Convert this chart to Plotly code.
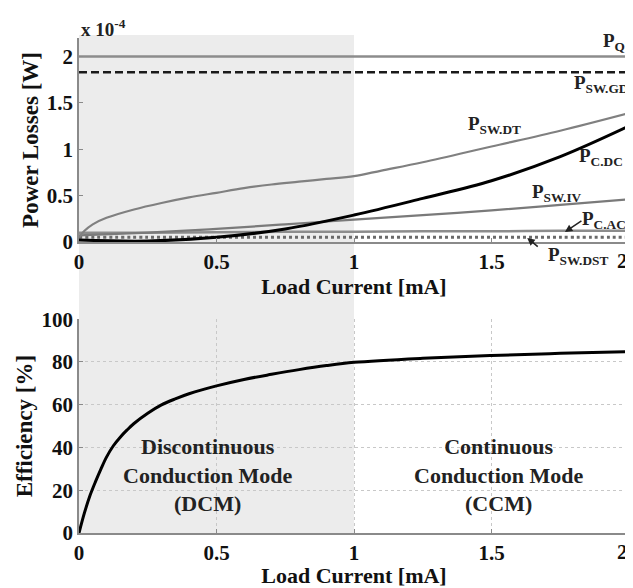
import plotly.graph_objects as go

# ---------------- data ----------------
# top plot: power losses (units of 1e-4 W) vs load current (mA)
X_FLAT = [0.0, 2.0]
P_Q = [2.0, 2.0]
P_SW_GD = [1.83, 1.83]

X_DT = [0, 0.02, 0.05, 0.1, 0.2, 0.3, 0.4, 0.5, 0.6, 0.7, 0.8, 0.9, 1.0, 1.1, 1.25, 1.5, 1.75, 2.0]
P_SW_DT = [0.05, 0.12, 0.19, 0.26, 0.35, 0.42, 0.48, 0.53, 0.58, 0.62, 0.65, 0.68, 0.71, 0.77, 0.86, 1.03, 1.20, 1.39]

X_CUR = [0, 0.25, 0.5, 0.75, 1.0, 1.25, 1.5, 1.75, 2.0]
P_C_DC = [0.02, 0.01, 0.05, 0.14, 0.29, 0.47, 0.66, 0.92, 1.25]
P_SW_IV = [0.07, 0.10, 0.14, 0.19, 0.24, 0.29, 0.34, 0.40, 0.46]
P_C_AC = [0.10, 0.10, 0.105, 0.11, 0.11, 0.115, 0.115, 0.12, 0.12]
P_SW_DST = [0.05, 0.05, 0.05, 0.05, 0.05, 0.05, 0.05, 0.05, 0.05]

# bottom plot: efficiency (%) vs load current (mA)
X_EFF = [0, 0.02, 0.04, 0.06, 0.08, 0.1, 0.125, 0.15, 0.175, 0.2, 0.25, 0.3, 0.35, 0.4,
         0.5, 0.6, 0.7, 0.8, 0.9, 1.0, 1.25, 1.5, 1.75, 2.0]
EFF = [0, 9.5, 17.5, 24, 30, 35.5, 40.8, 44.8, 48.2, 51.2, 56, 59.9, 62.7, 65.1,
       68.8, 71.8, 74.2, 76.4, 78.3, 79.8, 81.7, 83, 84, 84.8]

X_TICKS = [0, 0.5, 1, 1.5, 2]
X_TICKTEXT = ["0", "0.5", "1", "1.5", ""]   # the last label ("2") is drawn as an annotation
X_LAST_TICK = 2
X_LAST_TEXT = "2"
P_TICKS = [0, 0.5, 1, 1.5, 2]
P_TICKTEXT = ["0", "0.5", "1", "1.5", "2"]
E_TICKS = [0, 20, 40, 60, 80, 100]
E_TICKTEXT = ["0", "20", "40", "60", "80", "100"]

FONT = "Liberation Serif"
AX = "#8a8a8a"

fig = go.Figure()

def line(x, y, color, width, dash="solid", xa="x", ya="y", shape="spline"):
    fig.add_trace(go.Scatter(x=x, y=y, mode="lines", xaxis=xa, yaxis=ya,
                             line=dict(color=color, width=width, dash=dash, shape=shape),
                             showlegend=False, hoverinfo="skip", cliponaxis=False))

line(X_FLAT, P_Q, "#8c8c8c", 2.5, shape="linear")
line(X_FLAT, P_SW_GD, "#1a1a1a", 2.5, dash="8px,4px", shape="linear")
line(X_CUR, P_SW_DST, "#6a6a6a", 3, dash="dot")
line(X_CUR, P_C_AC, "#8c8c8c", 2.5)
line(X_CUR, P_SW_IV, "#7a7a7a", 2.2)
line(X_DT, P_SW_DT, "#808080", 2.2)
line(X_CUR, P_C_DC, "#000000", 3)

line(X_EFF, EFF, "#000000", 3, xa="x2", ya="y2")

tick_font = dict(family=FONT, size=21, color="#111", weight="bold")
title_font = dict(family=FONT, size=22, color="#111", weight="bold")
ytitle_font = dict(family=FONT, size=23, color="#111", weight="bold")

common_x = dict(range=[0, 2], tickvals=X_TICKS, ticktext=X_TICKTEXT, ticks="inside",
                ticklen=4, tickcolor=AX, showline=True, linecolor=AX, linewidth=1.5,
                zeroline=False, tickfont=tick_font, fixedrange=True, automargin=False,
                ticklabeloverflow="allow")

common_y = dict(ticks="inside", ticklen=4, tickcolor=AX, showline=True, linecolor=AX,
                linewidth=1.5, zeroline=False, tickfont=tick_font, automargin=False,
                fixedrange=True)

# page has an 8px body margin, so the figure is sized to fit inside it
fig.update_layout(
    width=625, height=580,
    margin=dict(l=71, r=4, t=30, b=55),
    paper_bgcolor="white", plot_bgcolor="rgba(0,0,0,0)",
    showlegend=False,
    xaxis=dict(**common_x, anchor="y", showgrid=False,
               title=dict(text="Load Current [mA]", font=title_font, standoff=2)),
    yaxis=dict(**common_y, domain=[0.588, 1.0], range=[0, 2.2], tickvals=P_TICKS,
               ticktext=P_TICKTEXT, showgrid=False, anchor="x",
               title=dict(text="Power Losses [W]", font=ytitle_font, standoff=2)),
    xaxis2=dict(**common_x, anchor="y2", showgrid=True, gridcolor="#c8c8c8",
                griddash="dot", gridwidth=1,
                title=dict(text="Load Current [mA]", font=title_font, standoff=2)),
    yaxis2=dict(**common_y, domain=[0.0, 0.432], range=[0, 100], tickvals=E_TICKS,
                ticktext=E_TICKTEXT, showgrid=True, gridcolor="#c8c8c8",
                griddash="dot", gridwidth=1, anchor="x2",
                title=dict(text="Efficiency [%]", font=ytitle_font, standoff=2)),
)

# DCM shaded region spanning both plots
fig.add_shape(type="rect", xref="x", yref="paper", x0=0, x1=1, y0=0, y1=1.006,
              fillcolor="#ececec", line=dict(width=0), layer="below")

# last x tick label on each axis (kept inside the page edge)
for xr, yr, yy in (("x", "y domain", -0.093), ("x2", "y2 domain", -0.09)):
    fig.add_annotation(x=X_LAST_TICK, y=yy, xref=xr, yref=yr, text=X_LAST_TEXT,
                       showarrow=False, xanchor="center", yanchor="middle", xshift=-7,
                       font=tick_font, borderpad=0)

lab_font = dict(family=FONT, size=19, color="#222", weight="bold")
labels = [  # (x in mA, y as fraction of the top plot height, text)
    (1.900, 0.982, "P<sub>Q</sub>"),
    (1.795, 0.773, "P<sub>SW.GD</sub>"),
    (1.410, 0.573, "P<sub>SW.DT</sub>"),
    (1.815, 0.418, "P<sub>C.DC</sub>"),
    (1.645, 0.241, "P<sub>SW.IV</sub>"),
    (1.825, 0.109, "P<sub>C.AC</sub>"),
    (1.700, -0.068, "P<sub>SW.DST</sub>"),
]
for x, y, t in labels:
    fig.add_annotation(x=x, y=y, xref="x", yref="y domain", text=t, showarrow=False,
                       xanchor="left", yanchor="middle", font=lab_font, borderpad=0)

# arrows
fig.add_annotation(x=1.767, y=0.108, xref="x", yref="y", text="", showarrow=True,
                   ax=18, ay=-12, arrowhead=2, arrowsize=1, arrowwidth=1.5, arrowcolor="#222")
fig.add_annotation(x=1.63, y=0.043, xref="x", yref="y", text="", showarrow=True,
                   ax=12, ay=10, arrowhead=2, arrowsize=1, arrowwidth=1.5, arrowcolor="#222")

# scale factor
fig.add_annotation(x=0, y=1.02, xref="paper", yref="paper", text="x 10<sup>-4</sup>",
                   showarrow=False, xanchor="left", yanchor="middle",
                   font=dict(family=FONT, size=19, color="#222", weight="bold"))

mode_font = dict(family=FONT, size=22, color="#222", weight="bold")
fig.add_annotation(x=0.47, y=27, xref="x2", yref="y2",
                   text="Discontinuous<br>Conduction Mode<br>(DCM)", showarrow=False,
                   font=mode_font, align="center")
fig.add_annotation(x=1.527, y=27, xref="x2", yref="y2",
                   text="Continuous<br>Conduction Mode<br>(CCM)", showarrow=False,
                   font=mode_font, align="center")

fig.write_html("out.html")
